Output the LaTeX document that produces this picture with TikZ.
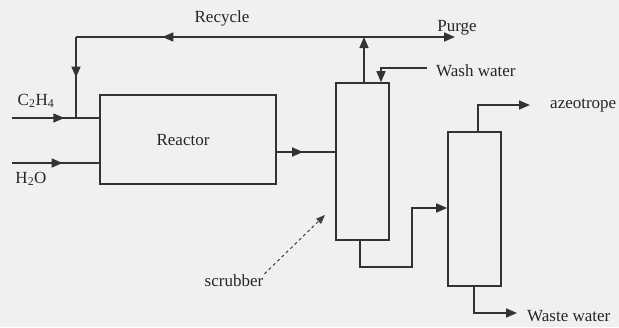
\documentclass[tikz,border=0pt]{standalone}
\usepackage{fontspec}
\setmainfont{Liberation Serif}
\usetikzlibrary{arrows.meta,decorations.markings}
\begin{document}
\begin{tikzpicture}[x=1pt,y=-1pt,
  line/.style={draw=black!80,line width=1.6pt},
  tip/.style={-{Triangle[length=11pt,width=9pt]}},
  midarrow/.style={decoration={markings,mark=at position #1 with {\arrow{Triangle[length=11pt,width=9pt]}}},postaction=decorate},
  unit/.style={draw=black!80,line width=1.6pt,inner sep=0pt},
  lbl/.style={font=\fontsize{17}{20}\selectfont,text=black!85,inner sep=1pt}]
\useasboundingbox[fill=black!6] (0,0) rectangle (619,327);
% units
\node[unit,minimum width=176pt,minimum height=89pt] (reactor) at (188,139.5) {};
\node[lbl] (reactorlbl) at (183,140) {Reactor};
\node[unit,minimum width=53pt,minimum height=157pt] (scrubber) at (362.5,161.5) {};
\node[unit,minimum width=53pt,minimum height=154pt] (column) at (474.5,209) {};
% coordinates
\coordinate (c2in) at (12,118);
\coordinate (h2in) at (12,163);
\coordinate (mix) at (76,118);
\coordinate (rcorner) at (76,37);
\coordinate (junc) at (364,37);
\coordinate (purgeend) at (455,37);
\coordinate (washin) at (427,68);
\coordinate (washc) at (381,68);
\coordinate (sbot) at (360,240);
\coordinate (sb1) at (360,267);
\coordinate (sb2) at (412,267);
\coordinate (sb3) at (412,208);
\coordinate (ctop) at (478,132);
\coordinate (ct1) at (478,105);
\coordinate (azend) at (530,105);
\coordinate (cbot) at (474,287);
\coordinate (cb1) at (474,313);
\coordinate (wwend) at (517,313);
\coordinate (scrubtip) at (325,215);
% labels
\node[lbl] (c2lbl) at (36,101) {C\textsubscript{2}H\textsubscript{4}};
\node[lbl] (h2lbl) at (31,179) {H\textsubscript{2}O};
\node[lbl] (recyclelbl) at (222,18) {Recycle};
\node[lbl] (purgelbl) at (457,28) {Purge};
\node[lbl,anchor=west] (washlbl) at (435,71) {Wash water};
\node[lbl,anchor=west] (azlbl) at (549,106) {azeotrope};
\node[lbl,anchor=west] (wwlbl) at (526,316) {Waste water};
\node[lbl] (scrublbl) at (234,281) {scrubber};
% connectors
\draw[line,midarrow=0.6] (c2in) -- (reactor.west |- c2in);
\draw[line,midarrow=0.58] (h2in) -- (reactor.west |- h2in);
\draw[line,midarrow=0.7] (junc) -- (rcorner);
\draw[line,midarrow=0.5] (rcorner) -- (mix);
\draw[line,midarrow=0.45] (reactor.east |- 0,152) -- (scrubber.west |- 0,152);
\draw[line,tip] (scrubber.north -| junc) -- (junc);
\draw[line,tip] (junc) -- (purgeend);
\draw[line,tip] (washin) -- (washc) -- (scrubber.north -| washc);
\draw[line,tip] (sbot) -- (sb1) -- (sb2) -- (sb3) -- (column.west |- sb3);
\draw[line,tip] (ctop) -- (ct1) -- (azend);
\draw[line,tip] (cbot) -- (cb1) -- (wwend);
\draw[draw=black!75,line width=1pt,dashed,-{Triangle[length=9pt,width=7pt]}] (scrublbl.north east) -- (scrubtip);
\end{tikzpicture}
\end{document}
